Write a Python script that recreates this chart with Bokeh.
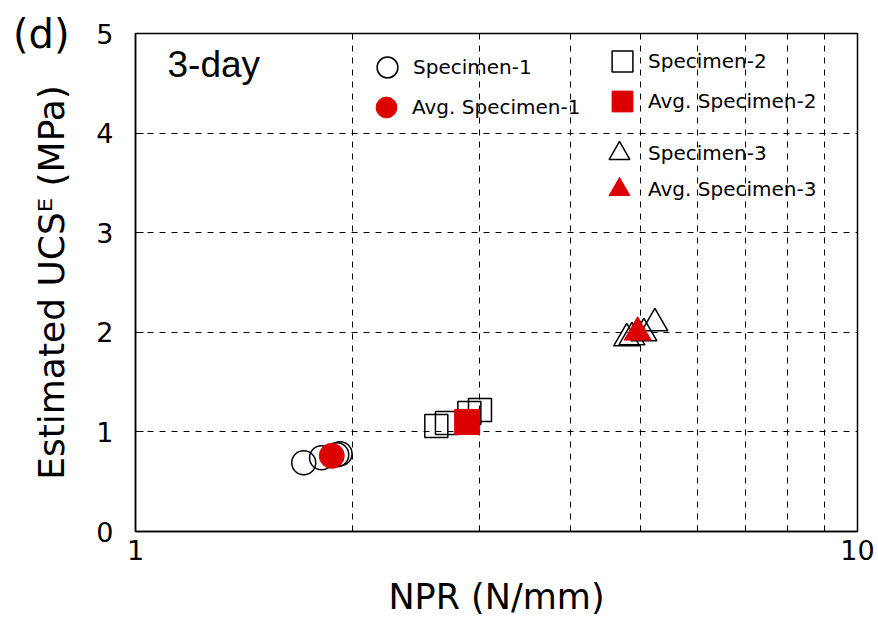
from bokeh.plotting import figure
from bokeh.models import (FixedTicker, Legend, LegendItem, Label, Range1d,
                          PrintfTickFormatter, LinearAxis, CustomJSTickFormatter)
from bokeh.embed import file_html
from bokeh.resources import INLINE

# NPR (N/mm) against estimated UCS^E (MPa) for the 3-day specimens
spec1_npr = [1.71, 1.81, 1.90, 1.92]
spec1_ucs = [0.69, 0.74, 0.77, 0.78]
avg1_npr = [1.87]
avg1_ucs = [0.76]

spec2_npr = [2.61, 2.70, 2.90, 3.00]
spec2_ucs = [1.06, 1.09, 1.19, 1.22]
avg2_npr = [2.88]
avg2_ucs = [1.10]

spec3_npr = [4.79, 4.87, 5.06, 5.24]
spec3_ucs = [1.94, 1.95, 1.99, 2.09]
avg3_npr = [4.96]
avg3_ucs = [2.00]

x_major = [1, 10]
x_minor = [2, 3, 4, 5, 6, 7, 8, 9]
y_ticks = [0, 1, 2, 3, 4, 5]

RED = "#dd0000"
FONT = "DejaVu Sans"

p = figure(width=878, height=625, x_axis_type="log",
           x_range=Range1d(1, 10), y_range=Range1d(0, 5),
           output_backend="svg", toolbar_location=None,
           min_border_left=135, min_border_right=21,
           min_border_top=33, min_border_bottom=94)
p.background_fill_color = "white"
p.border_fill_color = "white"
p.outline_line_color = "black"
p.outline_line_width = 1.5

# axes and ticks
xt = FixedTicker(ticks=x_major, minor_ticks=x_minor)
yt = FixedTicker(ticks=y_ticks, minor_ticks=[])
p.xaxis.ticker = xt
p.yaxis.ticker = yt
p.xaxis.formatter = PrintfTickFormatter(format="%d")
p.yaxis.formatter = PrintfTickFormatter(format="%d")

for ax in (p.xaxis, p.yaxis):
    ax.axis_line_color = "black"
    ax.axis_line_width = 1.5
    ax.major_tick_line_color = "black"
    ax.major_tick_out = 0
    ax.major_label_text_font = FONT
    ax.major_label_text_font_size = "27px"
    ax.major_label_text_color = "black"
    ax.axis_label_text_font = FONT
    ax.axis_label_text_font_style = "normal"
    ax.axis_label_text_color = "black"

p.xaxis.major_tick_in = 0
p.xaxis.minor_tick_in = 6
p.xaxis.minor_tick_out = 0
p.xaxis.minor_tick_line_color = "black"
p.xaxis.major_label_standoff = 8
p.xaxis.axis_label = "NPR (N/mm)"
p.xaxis.axis_label_text_font_size = "35px"
p.xaxis.axis_label_standoff = 14

p.yaxis.major_tick_in = 8
p.yaxis.minor_tick_line_color = None
p.yaxis.major_label_standoff = 22
p.yaxis.axis_label = "Estimated UCS\u1d31 (MPa)"
p.yaxis.axis_label_text_font_size = "36px"
p.yaxis.axis_label_standoff = 21

# panel tag "(d)": a bare outer axis with a single label level with the top
tag_axis = LinearAxis(ticker=FixedTicker(ticks=[5], minor_ticks=[]),
                      formatter=CustomJSTickFormatter(code="return '(d)'"),
                      axis_line_color=None, major_tick_line_color=None,
                      minor_tick_line_color=None,
                      major_tick_in=0, major_tick_out=0,
                      major_label_standoff=-41,
                      major_label_text_font=FONT,
                      major_label_text_font_size="40px",
                      major_label_text_color="black")
p.add_layout(tag_axis, "left")

# dashed grid
p.xgrid.ticker = FixedTicker(ticks=x_minor)
p.ygrid.ticker = yt
for g in (p.xgrid, p.ygrid):
    g.grid_line_color = "black"
    g.grid_line_width = 1
    g.grid_line_dash = "6 6"

# data
r1 = p.scatter(spec1_npr, spec1_ucs, marker="circle", size=24,
               fill_color=None, line_color="black", line_width=1.5)
r2 = p.scatter(spec2_npr, spec2_ucs, marker="square", size=23,
               fill_color=None, line_color="black", line_width=1.5)
r3 = p.scatter(spec3_npr, spec3_ucs, marker="triangle", size=26,
               fill_color=None, line_color="black", line_width=1.5)
a1 = p.scatter(avg1_npr, avg1_ucs, marker="circle", size=25,
               fill_color=RED, line_color=RED)
a2 = p.scatter(avg2_npr, avg2_ucs, marker="square", size=25,
               fill_color=RED, line_color=RED)
a3 = p.scatter(avg3_npr, avg3_ucs, marker="triangle", size=27,
               fill_color=RED, line_color=RED)


def legend_entry(label, renderer, loc, standoff):
    lg = Legend(items=[LegendItem(label=label, renderers=[renderer])],
                location=loc, glyph_width=52, glyph_height=52,
                label_standoff=standoff, spacing=0,
                padding=0, margin=0,
                border_line_color=None, background_fill_alpha=0,
                label_text_font=FONT, label_text_font_size="20px",
                label_text_color="black")
    p.add_layout(lg, "center")


legend_entry("Specimen-1", r1, (226, 438), -3)
legend_entry("Avg. Specimen-1", a1, (225, 398), -2)
legend_entry("Specimen-2", r2, (461, 444), 0)
legend_entry("Avg. Specimen-2", a2, (461, 404), 0)
legend_entry("Specimen-3", r3, (458, 352), 3)
legend_entry("Avg. Specimen-3", a3, (458, 316), 3)

p.add_layout(Label(x=32, y=467, x_units="screen", y_units="screen",
                   text="3-day", text_font="Liberation Sans",
                   text_font_size="37px", text_color="black",
                   text_baseline="alphabetic"))

open("out.html", "w").write(file_html(p, INLINE))
